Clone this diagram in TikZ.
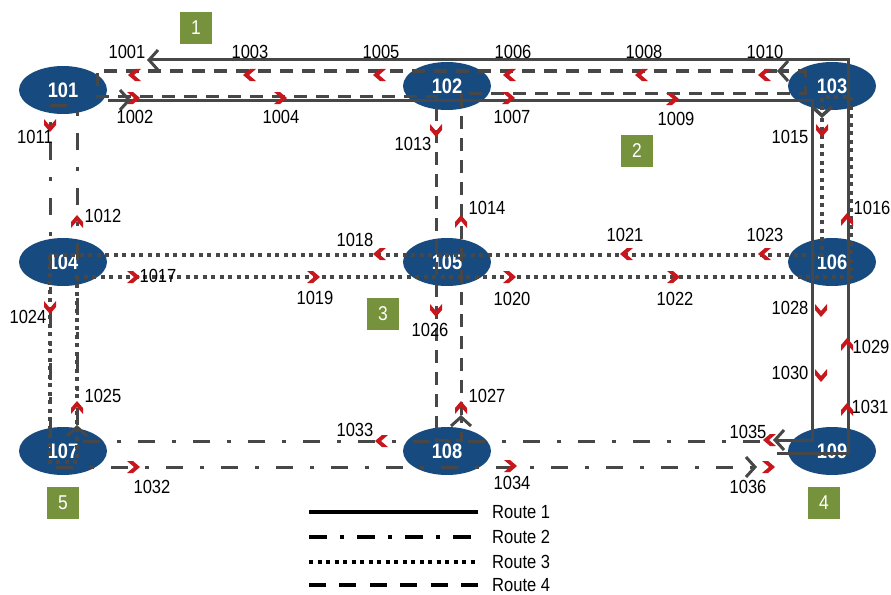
\documentclass[tikz,border=0pt]{standalone}
\usepackage{fontspec}
\setmainfont{Liberation Sans}
\newfontfamily\narrowfont[FakeStretch=0.87]{Liberation Sans}
\usetikzlibrary{calc,shapes.geometric,arrows.meta}
\definecolor{nodeblue}{HTML}{174A7E}
\definecolor{routegray}{HTML}{474747}
\definecolor{chevred}{HTML}{C8161D}
\definecolor{zonegreen}{HTML}{76923C}

\begin{document}
\begin{tikzpicture}[
    x=1pt, y=-1pt,
    stop node/.style={ellipse, fill=nodeblue, minimum width=88pt, minimum height=48pt, inner sep=0pt, text=white, font=\narrowfont\bfseries\fontsize{21}{23}\selectfont},
    seg label/.style={inner sep=0pt, font=\narrowfont\fontsize{19}{21}\selectfont},
    zone box/.style={fill=zonegreen, minimum size=32pt, inner sep=0pt, text=white, font=\narrowfont\fontsize{20}{22}\selectfont},
    route/.style={draw=routegray, line width=3pt},
    route one/.style={route},
    route two/.style={route, dash pattern=on 17pt off 17pt on 4pt off 17pt},
    route three/.style={route, line width=3.5pt, dash pattern=on 4pt off 4.5pt},
    route four/.style={route, dash pattern=on 13pt off 9pt},
    tip/.style={-{Straight Barb[length=9pt,width=20pt]}},
    key line/.style={draw=black, line width=3.5pt},
    key text/.style={anchor=west, inner sep=0pt, font=\narrowfont\fontsize{19}{21}\selectfont},
    chev/.pic={\fill[chevred] (-6,-6) -- (0,-6) -- (7,0) -- (0,6) -- (-6,6) -- (1,0) -- cycle;}
]
\useasboundingbox (0,0) rectangle (891,594);

% stops
\node[stop node] (n101) at (63,90)   {101};
\node[stop node] (n102) at (447,86)  {102};
\node[stop node] (n103) at (832,86)  {103};
\node[stop node] (n104) at (63,262)  {104};
\node[stop node] (n105) at (447,262) {105};
\node[stop node] (n106) at (832,262) {106};
\node[stop node] (n107) at (63,451)  {107};
\node[stop node] (n108) at (447,451) {108};
\node[stop node] (n109) at (832,451) {109};

% zones
\node[zone box] (z1) at (196,28)  {1};
\node[zone box] (z2) at (637,151) {2};
\node[zone box] (z3) at (383,314) {3};
\node[zone box] (z4) at (824,503) {4};
\node[zone box] (z5) at (63,503)  {5};

% Route 1: 101 -> 103 -> 109, back 109 -> 103 -> 101
\draw[route one, tip] ($(n101)+(45,10)$) -- ($(n101)+(68,10)$);
\draw[route one, tip] ($(n101)+(45,10)$) -- ($(n103)+(-20,14)$) -- ($(n109)+(-20,-11)$) -- ($(n109)+(-59,-11)$);
\draw[route one, tip] ($(n109)+(-55,2)$) -- ($(n109)+(16,2)$) -- ($(n103)+(16,-26)$) -- ($(n101)+(84,-30)$);

% Route 2: 101 -> 107 -> 109 and back
\draw[route two, tip] ($(n109)+(-72,-10)$) -- ($(n107)+(14,-10)$) -- ($(n107)+(14,-26)$);
\draw[route two, tip] ($(n107)+(14,-26)$) -- ($(n101)+(14,15)$) -- ($(n101)+(-13,15)$) -- ($(n107)+(-13,16)$) -- ($(n109)+(-75,16)$);

% Route 3: loop 104 - 106 - 103 - 106 - 104 - 107
\draw[route three, tip] ($(n103)+(-10,32)$) -- ($(n106)+(-10,-7)$) -- ($(n104)+(-13,-7)$) -- ($(n107)+(-13,11)$)
    -- ($(n107)+(14,11)$) -- ($(n104)+(14,15)$) -- ($(n106)+(19,15)$) -- ($(n103)+(19,11)$)
    -- ($(n103)+(-10,11)$) -- ($(n103)+(-10,32)$);

% Route 4: 101 -> 102 -> 108 -> 102 -> 103 -> 101
\draw[route four, tip] ($(n103)+(-55,-15)$) -- ($(n101)+(34,-19)$) -- ($(n101)+(34,6)$) -- ($(n102)+(-11,10)$)
    -- ($(n108)+(-11,-11)$) -- ($(n108)+(14,-11)$) -- ($(n108)+(14,-36)$);
\draw[route four, tip] ($(n108)+(14,-36)$) -- ($(n102)+(14,7)$) -- ($(n103)+(-27,7)$) -- ($(n103)+(-27,-15)$) -- ($(n103)+(-55,-15)$);

% links, top row
\pic[rotate=180] at (135,75) {chev};  \node[seg label] (s1001) at (127,52)  {1001};
\pic[rotate=180] at (250,75) {chev};  \node[seg label] (s1003) at (250,52)  {1003};
\pic[rotate=180] at (380,75) {chev};  \node[seg label] (s1005) at (381,52)  {1005};
\pic[rotate=180] at (510,75) {chev};  \node[seg label] (s1006) at (513,52)  {1006};
\pic[rotate=180] at (642,75) {chev};  \node[seg label] (s1008) at (644,52)  {1008};
\pic[rotate=180] at (765,75) {chev};  \node[seg label] (s1010) at (765,52)  {1010};
\pic at (133,98) {chev};              \node[seg label] (s1002) at (135,117) {1002};
\pic at (280,98) {chev};              \node[seg label] (s1004) at (281,117) {1004};
\pic at (508,98) {chev};              \node[seg label] (s1007) at (512,117) {1007};
\pic at (672,99) {chev};              \node[seg label] (s1009) at (676,119) {1009};

% links, columns
\pic[rotate=-90] at (50,125) {chev};  \node[seg label] (s1011) at (35,137)  {1011};
\pic[rotate=90] at (77,222) {chev};   \node[seg label] (s1012) at (103,216) {1012};
\pic[rotate=-90] at (50,307) {chev};  \node[seg label] (s1024) at (28,317)  {1024};
\pic[rotate=90] at (77,408) {chev};   \node[seg label] (s1025) at (103,396) {1025};
\pic[rotate=-90] at (436,130) {chev}; \node[seg label] (s1013) at (413,144) {1013};
\pic[rotate=90] at (461,222) {chev};  \node[seg label] (s1014) at (487,208) {1014};
\pic[rotate=-90] at (436,310) {chev}; \node[seg label] (s1026) at (430,330) {1026};
\pic[rotate=90] at (461,408) {chev};  \node[seg label] (s1027) at (487,396) {1027};
\pic[rotate=-90] at (822,130) {chev}; \node[seg label] (s1015) at (790,137) {1015};
\pic[rotate=90] at (847,220) {chev};  \node[seg label] (s1016) at (872,208) {1016};
\pic[rotate=-90] at (821,310) {chev}; \node[seg label] (s1028) at (790,308) {1028};
\pic[rotate=90] at (847,345) {chev};  \node[seg label] (s1029) at (871,347) {1029};
\pic[rotate=-90] at (821,375) {chev}; \node[seg label] (s1030) at (790,373) {1030};
\pic[rotate=90] at (847,410) {chev};  \node[seg label] (s1031) at (870,407) {1031};

% links, middle row
\pic[rotate=180] at (380,254) {chev}; \node[seg label] (s1018) at (355,240) {1018};
\pic[rotate=180] at (627,254) {chev}; \node[seg label] (s1021) at (625,235) {1021};
\pic[rotate=180] at (765,254) {chev}; \node[seg label] (s1023) at (765,235) {1023};
\pic at (133,277) {chev};             \node[seg label] (s1017) at (158,276) {1017};
\pic at (313,277) {chev};             \node[seg label] (s1019) at (315,298) {1019};
\pic at (509,277) {chev};             \node[seg label] (s1020) at (512,299) {1020};
\pic at (673,277) {chev};             \node[seg label] (s1022) at (675,299) {1022};

% links, bottom row
\pic[rotate=180] at (382,441) {chev}; \node[seg label] (s1033) at (355,430) {1033};
\pic[rotate=180] at (770,440) {chev}; \node[seg label] (s1035) at (748,432) {1035};
\pic at (133,467) {chev};             \node[seg label] (s1032) at (152,487) {1032};
\pic at (510,466) {chev};             \node[seg label] (s1034) at (512,483) {1034};
\pic at (768,467) {chev};             \node[seg label] (s1036) at (748,487) {1036};

% legend
\node[key text] (k1) at (492,512) {Route 1};
\node[key text] (k2) at (492,537) {Route 2};
\node[key text] (k3) at (492,562) {Route 3};
\node[key text] (k4) at (492,585) {Route 4};
\draw[key line] ($(k1.west)+(-183,0)$) -- ($(k1.west)+(-14,0)$);
\draw[key line, dash pattern=on 18pt off 13pt on 4pt off 13pt] ($(k2.west)+(-183,0)$) -- ($(k2.west)+(-21,0)$);
\draw[key line, dash pattern=on 4pt off 4.5pt] ($(k3.west)+(-183,0)$) -- ($(k3.west)+(-14,0)$);
\draw[key line, dash pattern=on 17pt off 13.4pt] ($(k4.west)+(-183,0)$) -- ($(k4.west)+(-14,0)$);

\end{tikzpicture}
\end{document}
